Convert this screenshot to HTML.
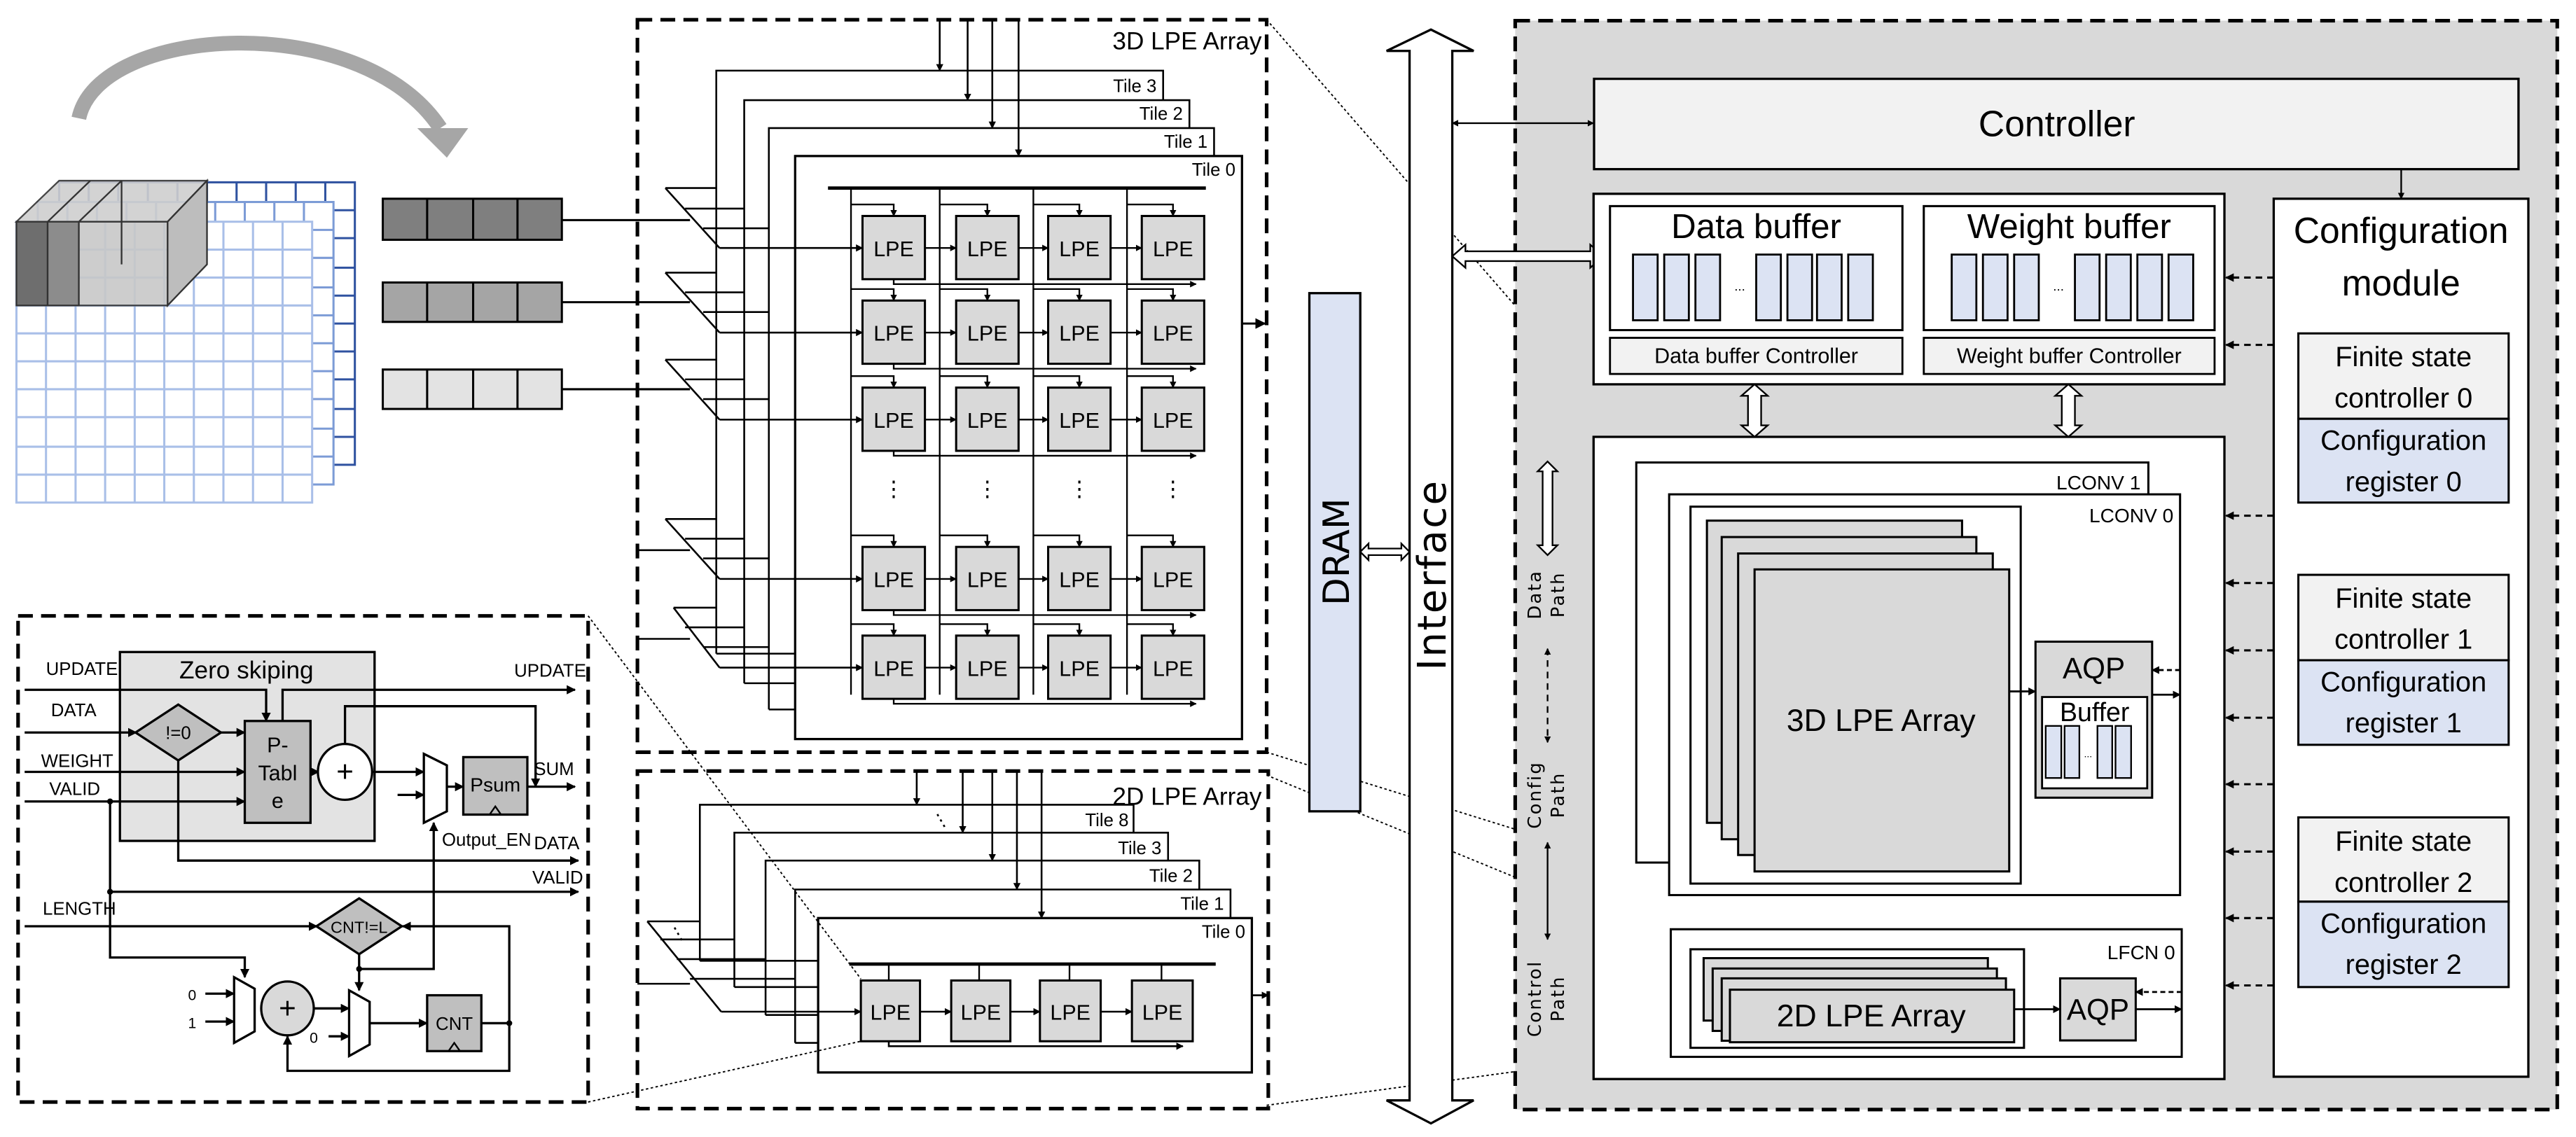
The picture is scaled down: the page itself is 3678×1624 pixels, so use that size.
<!DOCTYPE html>
<html><head><meta charset="utf-8"><style>
html,body{margin:0;padding:0;background:#fff}
svg{display:block}
text{font-family:"Liberation Sans Narrow","Liberation Sans",sans-serif;fill:#000}
.t{font-family:"DejaVu Sans","Liberation Sans",sans-serif}
</style></head><body>
<svg width="3678" height="1624" viewBox="0 0 1568 692.3" preserveAspectRatio="none" xmlns="http://www.w3.org/2000/svg">
<defs>
<marker id="a" viewBox="0 0 10 10" refX="9" refY="5" markerWidth="5" markerHeight="5" orient="auto-start-reverse"><path d="M0,0L10,5L0,10z" fill="#000"/></marker>
<marker id="b" viewBox="0 0 10 10" refX="9" refY="5" markerWidth="4" markerHeight="4" orient="auto-start-reverse"><path d="M0,0L10,5L0,10z" fill="#000"/></marker>
</defs>

<!-- curved arrow -->
<path d="M48,72 C60,15 220,5 268,78" fill="none" stroke="#a6a6a6" stroke-width="9"/>
<path d="M254,78 L285,78 L272,96 z" fill="#a6a6a6"/>

<!-- grids -->
<g fill="#fff" stroke-width="1.3">
<g stroke="#2f52a0"><rect x="36" y="111" width="180" height="172"/>
<path d="M54,111V283M72,111V283M90,111V283M108,111V283M126,111V283M144,111V283M162,111V283M180,111V283M198,111V283M36,128H216M36,145H216M36,163H216M36,180H216M36,197H216M36,214H216M36,231H216M36,249H216M36,266H216"/></g>
<g stroke="#7c9bd6"><rect x="23" y="123" width="180" height="172"/>
<path d="M41,123V295M59,123V295M77,123V295M95,123V295M113,123V295M131,123V295M149,123V295M167,123V295M185,123V295M23,140H203M23,157H203M23,175H203M23,192H203M23,209H203M23,226H203M23,243H203M23,261H203M23,278H203"/></g>
<g stroke="#a9bfe8"><rect x="10" y="135" width="180" height="171"/>
<path d="M28,135V306M46,135V306M64,135V306M82,135V306M100,135V306M118,135V306M136,135V306M154,135V306M172,135V306M10,152H190M10,169H190M10,186H190M10,203H190M10,220H190M10,237H190M10,254H190M10,272H190M10,289H190"/></g>
</g>
<!-- cube -->
<g stroke="#333" stroke-width="1">
<path d="M10,135 L36,110 L126,110 L102,135 z" fill="#cfcfcf" opacity="0.9"/>
<path d="M102,135 L126,110 L126,161 L102,186 z" fill="#bdbdbd"/>
<rect x="10" y="135" width="19" height="51" fill="#6e6e6e"/>
<rect x="29" y="135" width="19" height="51" fill="#8c8c8c"/>
<rect x="48" y="135" width="54" height="51" fill="#c8c8c8" opacity="0.9"/>
<path d="M29,135L55,110M48,135L74,110M74,110V161" fill="none"/>
</g>

<!-- bars -->
<g stroke="#000" stroke-width="1.3">
<rect x="233" y="121" width="109" height="25" fill="#7f7f7f"/><path d="M260,121V146M288,121V146M315,121V146"/>
<rect x="233" y="172" width="109" height="24" fill="#a5a5a5"/><path d="M260,172V196M288,172V196M315,172V196"/>
<rect x="233" y="225" width="109" height="24" fill="#e3e3e3"/><path d="M260,225V249M288,225V249M315,225V249"/>
<path d="M342,134H420M342,184H420M342,237H420" fill="none"/>
</g>

<!-- 3D LPE array dashed box -->
<rect x="388" y="12" width="383" height="446" fill="none" stroke="#000" stroke-width="2.2" stroke-dasharray="9,5"/>
<text x="768" y="30" font-size="15" text-anchor="end">3D LPE Array</text>
<g stroke="#000" stroke-width="1.1" fill="none">
<path d="M436,398 V43 H708 V61"/><path d="M453,416 V61 H724 V78"/><path d="M468,432 V78 H739 V95"/>
<path d="M436,398H484M453,416H484M468,432H484"/>
<rect x="484" y="95" width="272" height="355" fill="#fff" stroke-width="1.4"/>
</g>
<g font-size="11" text-anchor="end"><text x="704" y="56">Tile 3</text><text x="720" y="73">Tile 2</text><text x="735" y="90">Tile 1</text><text x="752" y="107">Tile 0</text></g>
<g stroke="#000" stroke-width="1.1" fill="none" marker-end="url(#b)">
<path d="M572,12V43"/><path d="M589,12V61"/><path d="M604,12V78"/><path d="M620,12V95"/>
</g>
<path d="M504,114.5H734" stroke="#000" stroke-width="2"/>
<path d="M518,114.5V423M572,114.5V423M629,114.5V423M686,114.5V423" stroke="#000" stroke-width="1"/>
<path d="M756,197H770" stroke="#000" stroke-width="1.3" marker-end="url(#a)"/>
<path d="M388,335H420M388,389H420" stroke="#000" stroke-width="1.1"/>

<!-- LPE rows -->
<g id="rows" stroke="#000" stroke-width="1.1" fill="none">
<!-- row generator written out -->
<g transform="translate(0,0)"><path d="M405,114.5L438,151M405,114.5H436M417,127H453M428,139H468"/><path d="M438,151H525" marker-end="url(#b)"/></g>
<g><path d="M405,166L438,202.5M405,166H436M417,178H453M428,190H468"/><path d="M438,202.5H525" marker-end="url(#b)"/></g>
<g><path d="M405,219L438,255.5M405,219H436M417,231H453M428,243H468"/><path d="M438,255.5H525" marker-end="url(#b)"/></g>
<g><path d="M405,316L438,352.5M405,316H436M417,328H453M428,340H468"/><path d="M438,352.5H525" marker-end="url(#b)"/></g>
<g><path d="M410,370L438,406.5M410,370H436M417,382H453M428,394H468"/><path d="M438,406.5H525" marker-end="url(#b)"/></g>
</g>
<g stroke="#000" stroke-width="1.3" fill="#d9d9d9">
<rect x="525" y="131.5" width="38" height="38.5"/><rect x="582" y="131.5" width="38" height="38.5"/><rect x="638" y="131.5" width="38" height="38.5"/><rect x="695" y="131.5" width="38" height="38.5"/>
<rect x="525" y="183" width="38" height="38.5"/><rect x="582" y="183" width="38" height="38.5"/><rect x="638" y="183" width="38" height="38.5"/><rect x="695" y="183" width="38" height="38.5"/>
<rect x="525" y="236" width="38" height="38.5"/><rect x="582" y="236" width="38" height="38.5"/><rect x="638" y="236" width="38" height="38.5"/><rect x="695" y="236" width="38" height="38.5"/>
<rect x="525" y="333" width="38" height="38.5"/><rect x="582" y="333" width="38" height="38.5"/><rect x="638" y="333" width="38" height="38.5"/><rect x="695" y="333" width="38" height="38.5"/>
<rect x="525" y="387" width="38" height="38.5"/><rect x="582" y="387" width="38" height="38.5"/><rect x="638" y="387" width="38" height="38.5"/><rect x="695" y="387" width="38" height="38.5"/>
</g>
<g stroke="#000" stroke-width="1" fill="none" marker-end="url(#b)">
<path d="M563,151H582"/><path d="M620,151H638"/><path d="M676,151H695"/>
<path d="M563,202.5H582"/><path d="M620,202.5H638"/><path d="M676,202.5H695"/>
<path d="M563,255.5H582"/><path d="M620,255.5H638"/><path d="M676,255.5H695"/>
<path d="M563,352.5H582"/><path d="M620,352.5H638"/><path d="M676,352.5H695"/>
<path d="M563,406.5H582"/><path d="M620,406.5H638"/><path d="M676,406.5H695"/>
<path d="M518,124.5H544V131.5"/><path d="M572,124.5H601V131.5"/><path d="M629,124.5H657V131.5"/><path d="M686,124.5H714V131.5"/>
<path d="M518,176H544V183"/><path d="M572,176H601V183"/><path d="M629,176H657V183"/><path d="M686,176H714V183"/>
<path d="M518,229H544V236"/><path d="M572,229H601V236"/><path d="M629,229H657V236"/><path d="M686,229H714V236"/>
<path d="M518,326H544V333"/><path d="M572,326H601V333"/><path d="M629,326H657V333"/><path d="M686,326H714V333"/>
<path d="M518,380H544V387"/><path d="M572,380H601V387"/><path d="M629,380H657V387"/><path d="M686,380H714V387"/>
<path d="M544,170V173H728"/><path d="M544,221.5V224.5H728"/><path d="M544,274.5V277.5H728"/><path d="M544,371.5V374.5H728"/><path d="M544,425.5V428.5H728"/>
</g>
<g font-size="13" text-anchor="middle">
<text x="544" y="156">LPE</text><text x="601" y="156">LPE</text><text x="657" y="156">LPE</text><text x="714" y="156">LPE</text>
<text x="544" y="207.5">LPE</text><text x="601" y="207.5">LPE</text><text x="657" y="207.5">LPE</text><text x="714" y="207.5">LPE</text>
<text x="544" y="260.5">LPE</text><text x="601" y="260.5">LPE</text><text x="657" y="260.5">LPE</text><text x="714" y="260.5">LPE</text>
<text x="544" y="357.5">LPE</text><text x="601" y="357.5">LPE</text><text x="657" y="357.5">LPE</text><text x="714" y="357.5">LPE</text>
<text x="544" y="411.5">LPE</text><text x="601" y="411.5">LPE</text><text x="657" y="411.5">LPE</text><text x="714" y="411.5">LPE</text>
<text x="544" y="302">⋮</text><text x="601" y="302">⋮</text><text x="657" y="302">⋮</text><text x="714" y="302">⋮</text>
</g>

<!-- 2D LPE array -->
<rect x="388" y="469.5" width="384" height="205.5" fill="none" stroke="#000" stroke-width="2.2" stroke-dasharray="9,5"/>
<text x="768" y="490" font-size="15" text-anchor="end">2D LPE Array</text>
<g stroke="#000" stroke-width="1.1" fill="none">
<path d="M426,585V490H690V507"/><path d="M447,601V507H711V524"/><path d="M466,618V524H730V541.6"/><path d="M484,635V541.6H749V559"/>
<path d="M426,585H498M447,601H498M466,618H498M484,635H498"/>
<rect x="498" y="559" width="264" height="94" fill="#fff" stroke-width="1.4"/>
<path d="M394,561L439,616M394,561H426M402,572H447M412,584H466M420,596H484M388,599H420"/>
</g>
<g font-size="11" text-anchor="end"><text x="687" y="503">Tile 8</text><text x="707" y="520">Tile 3</text><text x="726" y="537">Tile 2</text><text x="745" y="554">Tile 1</text><text x="758" y="571">Tile 0</text></g>
<text x="573" y="503" font-size="11" text-anchor="middle" transform="rotate(-30 573 500)">⋮</text>
<text x="413" y="572" font-size="11" text-anchor="middle" transform="rotate(-30 413 569)">⋮</text>
<g stroke="#000" stroke-width="1.1" fill="none" marker-end="url(#b)">
<path d="M558,469.5V490"/><path d="M586,469.5V507"/><path d="M604,469.5V524"/><path d="M619,469.5V541.6"/><path d="M634,469.5V559"/>
<path d="M439,616H524"/><path d="M560,616H579"/><path d="M615,616H633"/><path d="M670,616H689"/>
<path d="M541,634V637H720"/><path d="M762,606H772"/>
</g>
<path d="M517,587H740" stroke="#000" stroke-width="2"/>
<path d="M541,587V597M596,587V597M651,587V597M707,587V597" stroke="#000" stroke-width="1"/>
<g stroke="#000" stroke-width="1.3" fill="#d9d9d9">
<rect x="524" y="597" width="36" height="37"/><rect x="579" y="597" width="36" height="37"/><rect x="633" y="597" width="37" height="37"/><rect x="689" y="597" width="37" height="37"/>
</g>
<g font-size="13" text-anchor="middle"><text x="542" y="621">LPE</text><text x="597" y="621">LPE</text><text x="651.5" y="621">LPE</text><text x="707.5" y="621">LPE</text></g>

<!-- Zero skipping detail -->
<rect x="11" y="375" width="347" height="296" fill="none" stroke="#000" stroke-width="2.2" stroke-dasharray="9,5"/>
<rect x="73" y="397" width="155" height="115" fill="#e3e3e3" stroke="#000" stroke-width="1.4"/>
<text x="150" y="413" font-size="15" text-anchor="middle">Zero skiping</text>
<g font-size="11"><text x="28" y="411">UPDATE</text><text x="31" y="436">DATA</text><text x="25" y="467">WEIGHT</text><text x="30" y="484">VALID</text><text x="26" y="557">LENGTH</text>
<text x="313" y="412">UPDATE</text><text x="325" y="472">SUM</text><text x="269" y="515">Output_EN</text><text x="325" y="517">DATA</text><text x="324" y="538">VALID</text></g>
<g stroke="#000" stroke-width="1.4" fill="none" marker-end="url(#b)">
<path d="M15,420H162V439"/><path d="M172,439V420H350"/><path d="M15,446H83"/><path d="M134,446H149"/>
<path d="M15,470H149"/><path d="M15,488H149"/><path d="M189,470H194"/>
<path d="M210,453V430H326V479"/><path d="M226.5,470H258"/><path d="M242,484H258"/><path d="M272,479H282"/>
<path d="M321,479H350"/><path d="M108.5,463V524H352"/><path d="M67,543H352"/>
<path d="M15,564H193"/><path d="M310,623V564H245"/>
<path d="M67,488V583H149V595"/><path d="M125,605H142.5"/><path d="M125,622H142.5"/>
<path d="M218.6,581V603"/><path d="M218.6,590H264V501"/>
<path d="M191,614H212.5"/><path d="M200,631H212.5"/><path d="M225,623H260"/><path d="M293,623H310V652H175V631"/>
</g>
<circle cx="67" cy="488" r="1.8"/><circle cx="67" cy="543" r="1.8"/><circle cx="218.6" cy="590" r="1.8"/><circle cx="310" cy="623" r="1.8"/>
<g stroke="#000" stroke-width="1.4">
<path d="M108.5,429L134.5,446L108.5,463L82.5,446z" fill="#bfbfbf"/>
<rect x="149" y="439" width="40" height="62" fill="#bfbfbf"/>
<ellipse cx="210" cy="470" rx="16.5" ry="17" fill="#fff"/>
<path d="M258,459L272,466V494L258,501z" fill="#fff"/>
<rect x="282" y="461" width="39" height="35" fill="#bfbfbf"/>
<path d="M218.6,547L244.6,564L218.6,581L192.6,564z" fill="#bfbfbf"/>
<path d="M142.5,595L155,602V628L142.5,635z" fill="#fff"/>
<ellipse cx="175" cy="614" rx="16" ry="16.4" fill="#d9d9d9"/>
<path d="M212.5,603L225,610V636L212.5,643z" fill="#fff"/>
<rect x="260" y="606" width="33" height="34" fill="#bfbfbf"/>
</g>
<g text-anchor="middle">
<text x="108.5" y="450" font-size="11">!=0</text>
<text x="169" y="458" font-size="13">P-</text><text x="169" y="475" font-size="13">Tabl</text><text x="169" y="492" font-size="13">e</text>
<text x="210" y="476" font-size="18">+</text><text x="175" y="620" font-size="18">+</text>
<text x="301.5" y="482" font-size="12">Psum</text><text x="218.6" y="568" font-size="10">CNT!=L</text><text x="276.5" y="627" font-size="11">CNT</text>
<text x="117" y="609" font-size="9">0</text><text x="117" y="626" font-size="9">1</text><text x="191" y="635" font-size="9">0</text>
</g>
<path d="M298,496L301.5,491L305,496M273,640L276.5,635L280,640" fill="none" stroke="#000" stroke-width="1"/>

<!-- dotted connectors -->
<g stroke="#000" stroke-width="0.8" stroke-dasharray="1.5,1.5" fill="none">
<path d="M358,375L524,596"/><path d="M358,671L524,634"/>
<path d="M771,12L1029,309"/><path d="M771,458L1029,538"/><path d="M771,472L1029,578"/><path d="M771,673L1029,638"/>
</g>

<!-- DRAM and interface -->
<rect x="797" y="178.5" width="31" height="315.5" fill="#dce3f3" stroke="#000" stroke-width="1.4"/>
<text class="t" x="0" y="0" font-size="22" text-anchor="middle" transform="translate(821,336) rotate(-90)">DRAM</text>
<path d="M858,31H844L871,18L897,31H884V670H897L871,684L844,670H858z" fill="#fff" stroke="#000" stroke-width="1.4"/>
<text class="t" x="0" y="0" font-size="24" text-anchor="middle" letter-spacing="1" transform="translate(880,350) rotate(-90)">Interface</text>
<path d="M828,336L833,331V334H853V331L858,336L853,341V338H833V341z" fill="#fff" stroke="#000" stroke-width="1"/>

<!-- right big dashed region -->
<rect x="922.3" y="12.6" width="634.3" height="663" fill="#d9d9d9" stroke="#000" stroke-width="2.2" stroke-dasharray="9,5"/>
<path d="M884,75H970" stroke="#000" stroke-width="1" marker-start="url(#b)" marker-end="url(#b)"/>
<path d="M884,156L892,149V153H968V149L976,156L968,163V159H892V163z" fill="#fff" stroke="#000" stroke-width="1"/>
<rect x="970.3" y="48" width="562.7" height="55" fill="#f2f2f2" stroke="#000" stroke-width="1.4"/>
<text x="1252" y="83" font-size="22" text-anchor="middle">Controller</text>
<path d="M1461.6,103V121" stroke="#000" stroke-width="1" marker-end="url(#b)"/>

<rect x="970" y="118" width="384" height="116" fill="#fff" stroke="#000" stroke-width="1.4"/>
<rect x="980" y="125.5" width="178" height="75.5" fill="#fff" stroke="#000" stroke-width="1.3"/>
<rect x="1171" y="125.5" width="177" height="75.5" fill="#fff" stroke="#000" stroke-width="1.3"/>
<text x="1069" y="145" font-size="21" text-anchor="middle">Data buffer</text>
<text x="1259.5" y="145" font-size="21" text-anchor="middle">Weight buffer</text>
<g fill="#dce3f3" stroke="#000" stroke-width="1.2">
<rect x="994" y="155" width="15" height="40"/><rect x="1013" y="155" width="15" height="40"/><rect x="1032" y="155" width="15" height="40"/>
<rect x="1069" y="155" width="15" height="40"/><rect x="1088" y="155" width="15" height="40"/><rect x="1106" y="155" width="15" height="40"/><rect x="1125" y="155" width="15" height="40"/>
<rect x="1188" y="155" width="15" height="40"/><rect x="1207" y="155" width="15" height="40"/><rect x="1226" y="155" width="15" height="40"/>
<rect x="1263" y="155" width="15" height="40"/><rect x="1282" y="155" width="15" height="40"/><rect x="1301" y="155" width="15" height="40"/><rect x="1320" y="155" width="15" height="40"/>
</g>
<text x="1059" y="177" font-size="8" text-anchor="middle">...</text><text x="1253" y="177" font-size="8" text-anchor="middle">...</text>
<rect x="980" y="205.7" width="178" height="22" fill="#f2f2f2" stroke="#000" stroke-width="1.2"/>
<rect x="1171" y="205.7" width="177" height="22" fill="#f2f2f2" stroke="#000" stroke-width="1.2"/>
<text x="1069" y="221" font-size="13" text-anchor="middle">Data buffer Controller</text>
<text x="1259.5" y="221" font-size="13" text-anchor="middle">Weight buffer Controller</text>
<g fill="#fff" stroke="#000" stroke-width="1">
<path d="M1068,234L1076,241H1072V259H1076L1068,266L1060,259H1064V241H1060z"/>
<path d="M1259,234L1267,241H1263V259H1267L1259,266L1251,259H1255V241H1251z"/>
</g>

<!-- lower white -->
<rect x="970" y="266" width="384" height="391" fill="#fff" stroke="#000" stroke-width="1.4"/>
<rect x="996" y="281.6" width="311.7" height="243.6" fill="#fff" stroke="#000" stroke-width="1.3"/>
<text x="1303" y="298" font-size="12" text-anchor="end">LCONV 1</text>
<rect x="1016" y="301" width="311" height="244" fill="#fff" stroke="#000" stroke-width="1.3"/>
<text x="1323" y="318" font-size="12" text-anchor="end">LCONV 0</text>
<rect x="1029" y="308.5" width="201" height="229.5" fill="#fff" stroke="#000" stroke-width="1.3"/>
<g fill="#d9d9d9" stroke="#000" stroke-width="1.3">
<rect x="1039" y="317" width="155.3" height="184"/><rect x="1048" y="327" width="155" height="184"/><rect x="1058" y="337" width="155" height="183.6"/><rect x="1068" y="346.7" width="155" height="183.9"/>
</g>
<text x="1145" y="445" font-size="19" text-anchor="middle">3D LPE Array</text>
<path d="M1223,421H1239" stroke="#000" stroke-width="1.2" marker-end="url(#b)"/>
<rect x="1239" y="390.7" width="71" height="95" fill="#d9d9d9" stroke="#000" stroke-width="1.3"/>
<text x="1274.5" y="413" font-size="18" text-anchor="middle">AQP</text>
<rect x="1243" y="424.4" width="64" height="55.6" fill="#fff" stroke="#000" stroke-width="1.2"/>
<text x="1275" y="439" font-size="16" text-anchor="middle">Buffer</text>
<g fill="#dce3f3" stroke="#000" stroke-width="1"><rect x="1245.2" y="442" width="9.5" height="31.7"/><rect x="1256.7" y="442" width="9" height="31.7"/><rect x="1276.7" y="442" width="9" height="31.7"/><rect x="1287.7" y="442" width="9.5" height="31.7"/></g>
<text x="1271" y="461" font-size="6" text-anchor="middle">...</text>
<path d="M1327,408H1310" stroke="#000" stroke-width="1.2" stroke-dasharray="3,2" marker-end="url(#b)"/>
<path d="M1310,423H1327" stroke="#000" stroke-width="1.2" marker-end="url(#b)"/>

<rect x="1017" y="565.8" width="311" height="77.7" fill="#fff" stroke="#000" stroke-width="1.3"/>
<text x="1324" y="584" font-size="12" text-anchor="end">LFCN 0</text>
<rect x="1029" y="578" width="203" height="60" fill="#fff" stroke="#000" stroke-width="1.3"/>
<g fill="#d9d9d9" stroke="#000" stroke-width="1.3">
<rect x="1037" y="583.4" width="173" height="38"/><rect x="1042.5" y="589.7" width="173" height="38"/><rect x="1048" y="595.7" width="173" height="38"/><rect x="1053" y="602.6" width="173" height="32"/>
</g>
<text x="1139" y="625" font-size="19" text-anchor="middle">2D LPE Array</text>
<path d="M1226,614.5H1254" stroke="#000" stroke-width="1.2" marker-end="url(#b)"/>
<rect x="1254" y="595.7" width="46" height="37.8" fill="#d9d9d9" stroke="#000" stroke-width="1.3"/>
<text x="1277" y="621" font-size="18" text-anchor="middle">AQP</text>
<path d="M1328,604H1300" stroke="#000" stroke-width="1.2" stroke-dasharray="3,2" marker-end="url(#b)"/>
<path d="M1300,614.5H1328" stroke="#000" stroke-width="1.2" marker-end="url(#b)"/>

<!-- path labels -->
<path d="M942,281L948,287H945V332H948L942,338L936,332H939V287H936z" fill="#fff" stroke="#000" stroke-width="1"/>
<text class="t" font-size="11" text-anchor="middle" letter-spacing="1" transform="translate(938,362) rotate(-90)">Data</text>
<text class="t" font-size="11" text-anchor="middle" letter-spacing="1" transform="translate(952,362) rotate(-90)">Path</text>
<path d="M942,395V452" stroke="#000" stroke-width="1" stroke-dasharray="4,3" marker-start="url(#b)" marker-end="url(#b)"/>
<text class="t" font-size="11" text-anchor="middle" letter-spacing="1" transform="translate(938,484) rotate(-90)">Config</text>
<text class="t" font-size="11" text-anchor="middle" letter-spacing="1" transform="translate(952,484) rotate(-90)">Path</text>
<path d="M942,513V572" stroke="#000" stroke-width="1" marker-start="url(#b)" marker-end="url(#b)"/>
<text class="t" font-size="11" text-anchor="middle" letter-spacing="1" transform="translate(938,608) rotate(-90)">Control</text>
<text class="t" font-size="11" text-anchor="middle" letter-spacing="1" transform="translate(952,608) rotate(-90)">Path</text>

<!-- configuration module -->
<rect x="1384" y="121" width="155" height="534.6" fill="#fff" stroke="#000" stroke-width="1.4"/>
<text x="1461.5" y="148" font-size="22" text-anchor="middle">Configuration</text>
<text x="1461.5" y="180" font-size="22" text-anchor="middle">module</text>
<g stroke="#000" stroke-width="1.3">
<rect x="1399" y="203" width="128" height="52" fill="#f2f2f2"/><rect x="1399" y="255" width="128" height="51" fill="#dce3f3"/>
<rect x="1399" y="350" width="128" height="52" fill="#f2f2f2"/><rect x="1399" y="402" width="128" height="51.5" fill="#dce3f3"/>
<rect x="1399" y="497.7" width="128" height="51.3" fill="#f2f2f2"/><rect x="1399" y="549" width="128" height="52" fill="#dce3f3"/>
</g>
<g font-size="17" text-anchor="middle">
<text x="1463" y="223">Finite state</text><text x="1463" y="248">controller 0</text><text x="1463" y="274">Configuration</text><text x="1463" y="299">register 0</text>
<text x="1463" y="370">Finite state</text><text x="1463" y="395">controller 1</text><text x="1463" y="421">Configuration</text><text x="1463" y="446">register 1</text>
<text x="1463" y="518">Finite state</text><text x="1463" y="543">controller 2</text><text x="1463" y="568">Configuration</text><text x="1463" y="593">register 2</text>
</g>
<g stroke="#000" stroke-width="1.3" stroke-dasharray="4,3" marker-end="url(#b)">
<path d="M1384,169H1355"/><path d="M1384,210H1355"/><path d="M1384,314H1355"/><path d="M1384,355H1355"/><path d="M1384,396H1355"/><path d="M1384,437H1355"/><path d="M1384,477.5H1355"/><path d="M1384,518.5H1355"/><path d="M1384,559H1355"/><path d="M1384,600H1355"/>
</g>
</svg>
</body></html>
